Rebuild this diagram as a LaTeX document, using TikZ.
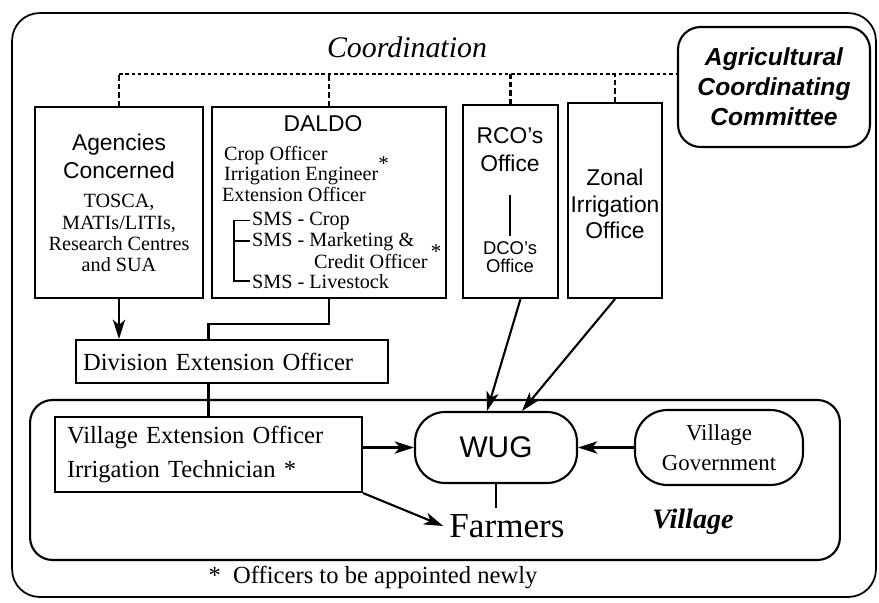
\documentclass[tikz,border=0pt]{standalone}
\usepackage{fontspec}
\setmainfont{Liberation Serif}
\setsansfont{Liberation Sans}
\usetikzlibrary{arrows.meta}

\tikzset{
  box/.style={draw, line width=1.2pt, inner sep=0pt},
  rbox/.style={box, rounded corners=#1},
  arr/.style={line width=1.2pt, -{Stealth[length=11pt,width=7pt,inset=3pt]}},
  link/.style={line width=1.2pt},
  coordline/.style={line width=1.1pt, dash pattern=on 2pt off 1.6pt},
  coorddrop/.style={line width=1.6pt, dash pattern=on 3pt off 1.8pt},
  sanstxt/.style={font=\sffamily\fontsize{13}{16}\selectfont, align=center, inner sep=1pt},
  sertxt/.style={font=\fontsize{11.5}{12}\selectfont, align=center, inner sep=1pt},
  item/.style={font=\fontsize{11.5}{12}\selectfont, inner sep=1pt, anchor=base west},
}

\begin{document}
\begin{tikzpicture}[x=0.02cm, y=-0.02cm]

	\useasboundingbox (0,0) rectangle (879,602);

	% 1. Marco exterior y recuadro de la aldea
	\node[rbox=0.55cm, line width=1pt, minimum width=17.28cm, minimum height=11.68cm] (frame) at (444,305) {};
	\node[rbox=0.45cm, minimum width=16.2cm, minimum height=3.2cm] (vill) at (435,480) {};

	% 2. Cajas superiores
	\node[box, minimum width=3.36cm, minimum height=3.82cm] (agen) at (119,202.5) {};
	\node[box, minimum width=4.68cm, minimum height=3.82cm] (daldo) at (329,202.5) {};
	\node[box, minimum width=1.9cm, minimum height=3.86cm] (rco) at (510.5,201.5) {};
	\node[box, minimum width=1.88cm, minimum height=3.9cm] (zonal) at (615,200.5) {};
	\node[rbox=0.45cm, minimum width=3.84cm, minimum height=2.4cm,
	      font=\sffamily\bfseries\itshape\fontsize{14}{17}\selectfont, align=center] (acc) at (774,87)
	      {Agricultural\\Coordinating\\Committee};

	\node[font=\itshape\fontsize{17}{17}\selectfont] (coord) at (407,47) {Coordination};

	% textos de las cajas
	\node[sanstxt] (agent) at (119,156) {Agencies\\Concerned};
	\node[sertxt] (agenl) at (119,233) {TOSCA,\\MATIs/LITIs,\\Research Centres\\and SUA};

	\node[sanstxt] (daldot) at (323,124) {DALDO};
	\node[item] (crop) at (222,160) {Crop Officer};
	\node[item] (irre) at (222,180) {Irrigation Engineer\raisebox{0.45em}{\large *}};
	\node[item] (ext) at (220,201) {Extension Officer};
	\node[item] (smsc) at (250,225) {SMS - Crop};
	\node[item] (smsm) at (250,246) {SMS - Marketing \&};
	\node[item] (cred) at (312,268) {Credit Officer\,\raisebox{0.45em}{\large *}};
	\node[item] (smsl) at (250,288) {SMS - Livestock};

	\node[sanstxt] (rcot) at (510,150) {RCO's\\Office};
	\node[sanstxt, font=\sffamily\fontsize{10.5}{10.5}\selectfont] (dcot) at (510,257) {DCO's\\Office};
	\node[sanstxt, font=\sffamily\fontsize{13}{15}\selectfont] (zonalt) at (615,204) {Zonal\\Irrigation\\Office};

	% 3. Cajas intermedias y de la aldea
	\node[box, text width=5.96cm, inner xsep=0.14cm, minimum height=0.86cm, align=left,
	      font=\fontsize{14}{17}\selectfont] (deo) at (232,361.5) {Division Extension Officer};
	\node[box, text width=5.66cm, inner xsep=0.24cm, minimum height=1.5cm, align=left,
	      font=\fontsize{14}{19}\selectfont] (veo) at (208.5,454.5) {Village Extension Officer\\Irrigation Technician *};
	\node[rbox=0.6cm, minimum width=3.24cm, minimum height=1.42cm,
	      font=\sffamily\fontsize{17}{17}\selectfont] (wug) at (496,447.5) {WUG};
	\node[rbox=0.65cm, minimum width=3.36cm, minimum height=1.5cm, align=center,
	      font=\fontsize{13}{17}\selectfont] (vg) at (719,447.5) {Village\\Government};

	\node[font=\fontsize{20}{20}\selectfont] (farm) at (507,526) {Farmers};
	\node[font=\bfseries\itshape\fontsize{16}{16}\selectfont] (villt) at (693,522) {Village};
	\node[font=\fontsize{14}{14}\selectfont] (note) at (373,577) {*\ \ Officers to be appointed newly};

	% 4. Linea de coordinacion (punteada)
	\draw[coordline] (agen.north) ++(0,-32) coordinate (dl) -- (dl -| acc.west);
	\draw[coorddrop] (agen.north) -- (dl);
	\draw[coorddrop] (daldo.north) -- (daldo.north |- dl);
	\draw[coorddrop] (rco.north) -- (rco.north |- dl);
	\draw[coorddrop] (zonal.north) -- (zonal.north |- dl);

	% 5. Arbol SMS dentro de DALDO
	\draw[line width=1pt] (smsc.west) -- ++(-16,0) |- (smsl.west);
	\draw[line width=1pt] (smsm.west) -- ++(-16,0);
	\draw[link, shorten <=12pt, shorten >=2pt] (rcot.south) -- (dcot.north);

	% 6. Conexiones
	\draw[arr] (agen.south) -- (agen.south |- deo.north);
	\draw[link] (daldo.south) -- ++(0,25) -| (deo.north -| veo.north);
	\draw[link] (deo.south -| veo.north) -- (veo.north);
	\draw[arr] ([xshift=0.2cm]rco.south) -- ([xshift=-0.18cm]wug.north);
	\draw[arr] (zonal.south) -- ([xshift=0.52cm]wug.north);
	\draw[arr] (veo.east |- wug.west) -- (wug.west);
	\draw[arr] (veo.south east) -- (farm.west);
	\draw[arr] (vg.west) -- (wug.east);
	\draw[link] (wug.south) -- (wug.south |- farm.north);

\end{tikzpicture}
\end{document}
